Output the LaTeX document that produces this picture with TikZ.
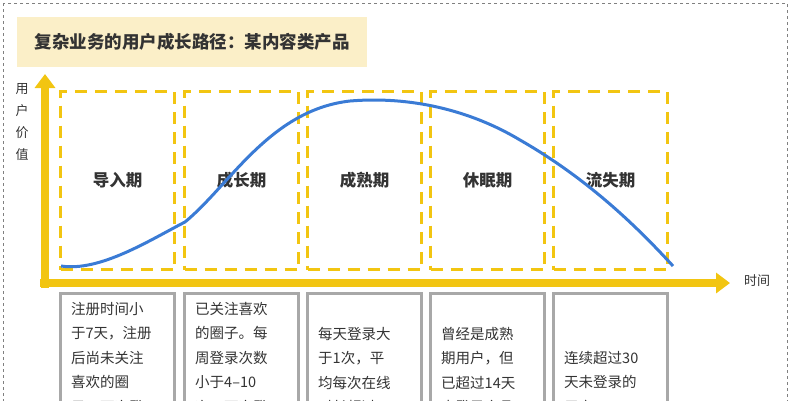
\documentclass[tikz,border=0pt]{standalone}
\usepackage{fontspec}
\setmainfont{Noto Sans CJK SC}
\usetikzlibrary{arrows.meta}
\definecolor{ylw}{HTML}{F2C511}
\definecolor{ttl}{HTML}{FBEFC8}
\definecolor{crv}{HTML}{3A7BD5}
\definecolor{gbox}{HTML}{A8A8A8}
\definecolor{txt}{HTML}{333333}
\tikzset{
  stage/.style={draw=ylw,line width=3pt,dash pattern=on 12pt off 8pt,minimum width=114pt,minimum height=178pt,anchor=north west,inner sep=0pt},
  stlabel/.style={font=\fontsize{16.5}{20}\selectfont\bfseries,text=txt},
  desc/.style={draw=gbox,line width=2.5pt,minimum width=114pt,minimum height=140pt,anchor=north west,inner sep=0pt},
  dtext/.style={font=\fontsize{14.5}{24.5}\selectfont,text=txt,align=left,anchor=north west,inner sep=0pt},
  axis/.style={ylw,line width=8pt,-{Triangle[length=14pt,width=20pt]}}
}
\begin{document}
\begin{tikzpicture}[x=1pt,y=-1pt]
\useasboundingbox (0,0) rectangle (791,400);
\clip (0,0) rectangle (791,400);
\draw[gray,dashed,line width=0.8pt] (3,3) rectangle (787,420);
\node[fill=ttl,minimum width=350pt,minimum height=50pt,anchor=north west,inner sep=0pt] (title) at (17,17) {};
\node[font=\fontsize{17.5}{20}\selectfont\bfseries,text=txt] at (title.center) {复杂业务的用户成长路径：某内容类产品};
\node[font=\fontsize{13}{22}\selectfont,text=txt,align=center,anchor=north] (ylab) at (22,80) {用\\户\\价\\值};
\node[font=\fontsize{13}{16}\selectfont,text=txt] (xlab) at (757,281) {时间};
\coordinate (o) at (45,288);
\coordinate (ytop) at (45,74);
\coordinate (xo) at (40,283);
\coordinate (xend) at (730,283);
\draw[axis] (o) -- (ytop);
\draw[axis] (xo) -- (xend);
\foreach \i/\x/\t in {1/59/导入期,2/183/成长期,3/306/成熟期,4/429/休眠期,5/552/流失期}{
  \node[stage] (s\i) at (\x,90) {};
  \node[stlabel] at ([yshift=-90pt]s\i.north) {\t};
  \node[desc] (d\i) at (\x,292) {};
}
\draw[crv,line width=3pt] (61,266) .. controls (100,272) and (150,240) .. (185,222)
  .. controls (230,185) and (270,110) .. (350,101)
  .. controls (410,96) and (470,110) .. (520,140)
  .. controls (590,180) and (640,230) .. (673,266);
\node[dtext] at ([xshift=12pt,yshift=-10pt]d1.north west) {注册时间小\\于7天，注册\\后尚未关注\\喜欢的圈\\子，下次登};
\node[dtext] at ([xshift=12pt,yshift=-10pt]d2.north west) {已关注喜欢\\的圈子。每\\周登录次数\\小于4–10\\次，下次登};
\node[dtext] at ([xshift=12pt,yshift=-35pt]d3.north west) {每天登录大\\于1次，平\\均每次在线\\时长超过1};
\node[dtext] at ([xshift=12pt,yshift=-35pt]d4.north west) {曾经是成熟\\期用户，但\\已超过14天\\未登录产品};
\node[dtext] at ([xshift=12pt,yshift=-59pt]d5.north west) {连续超过30\\天未登录的\\用户};
\end{tikzpicture}
\end{document}
